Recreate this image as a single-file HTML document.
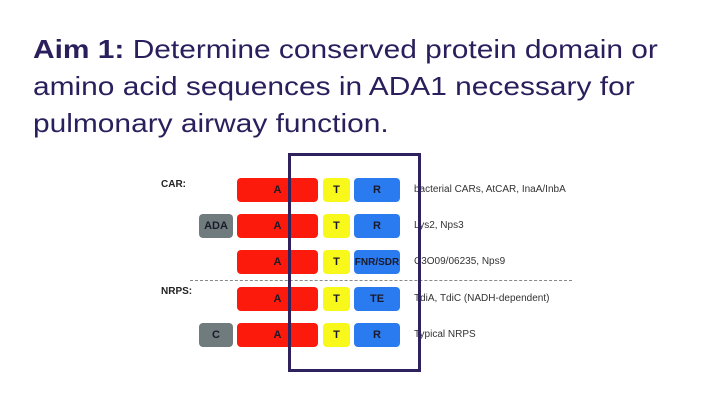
<!DOCTYPE html>
<html><head><meta charset="utf-8"><style>
body{margin:0;width:720px;height:405px;background:#fff;position:relative;overflow:hidden;font-family:"Liberation Sans",Arial,sans-serif}
.t{position:absolute;left:33px;font-size:26px;color:#2a1f5c;white-space:nowrap;line-height:30px;transform:scaleX(1.15);transform-origin:0 0}
.b{position:absolute;border-radius:4px;font-size:11px;font-weight:bold;color:#1a1a2a;display:flex;align-items:center;justify-content:center}
.r{background:#fb1a0c;left:237px;width:81px;height:24px}
.y{background:#f8f81a;left:323px;width:27px;height:24px}
.u{background:#2a7bf0;left:354px;width:46px;height:24px}
.g{background:#6f7b7d;left:199px;width:34px;height:24px}
.l{position:absolute;left:414px;font-size:10px;color:#333;white-space:nowrap}
.h{position:absolute;left:161px;font-size:10px;font-weight:bold;color:#222}
</style></head><body>
<div class="t" style="top:34px"><b>Aim 1:</b> Determine conserved protein domain or</div>
<div class="t" style="top:71px">amino acid sequences in ADA1 necessary for</div>
<div class="t" style="top:108px">pulmonary airway function.</div>

<div class="h" style="top:179px">CAR:</div>
<div class="h" style="top:286px">NRPS:</div>
<div style="position:absolute;left:190px;top:280px;width:382px;border-top:1px dashed #888"></div>

<div class="b r" style="top:178px">A</div><div class="b y" style="top:178px">T</div><div class="b u" style="top:178px">R</div>
<div class="l" style="top:184px">bacterial CARs, AtCAR, InaA/InbA</div>

<div class="b g" style="top:214px">ADA</div>
<div class="b r" style="top:214px">A</div><div class="b y" style="top:214px">T</div><div class="b u" style="top:214px">R</div>
<div class="l" style="top:220px">Lys2, Nps3</div>

<div class="b r" style="top:250px">A</div><div class="b y" style="top:250px">T</div><div class="b u" style="top:250px;font-size:10px">FNR/SDR</div>
<div class="l" style="top:256px">C3O09/06235, Nps9</div>

<div class="b r" style="top:287px">A</div><div class="b y" style="top:287px">T</div><div class="b u" style="top:287px">TE</div>
<div class="l" style="top:293px">TdiA, TdiC (NADH-dependent)</div>

<div class="b g" style="top:323px">C</div>
<div class="b r" style="top:323px">A</div><div class="b y" style="top:323px">T</div><div class="b u" style="top:323px">R</div>
<div class="l" style="top:329px">Typical NRPS</div>

<div style="position:absolute;left:288px;top:153px;width:127px;height:213px;border:3px solid #2e215e"></div>
</body></html>
